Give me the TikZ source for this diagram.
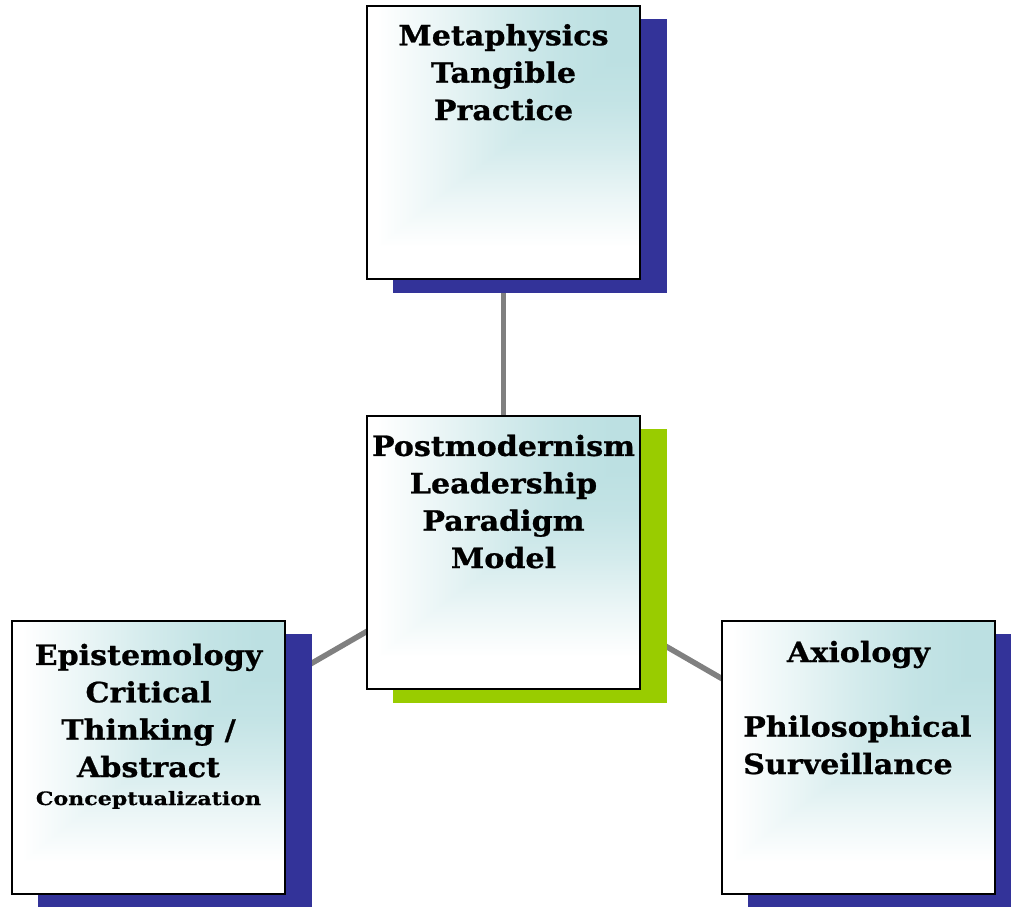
\documentclass[tikz,border=0pt]{standalone}
\usepackage{fontspec}
\setmainfont{DejaVu Serif}
\newfontfamily\boxfont[FakeStretch=1.08, FakeBold=0.8]{DejaVu Serif Bold}
\newfontfamily\boxfontwide[FakeStretch=1.2, FakeBold=0.6]{DejaVu Serif Bold}
\usetikzlibrary{backgrounds}
\definecolor{tealc}{HTML}{BCE0E2}
\definecolor{shblue}{HTML}{333399}
\definecolor{shgreen}{HTML}{99CC00}
\definecolor{linegray}{HTML}{808080}
\pgfdeclarehorizontalshading{hteal}{100bp}{%
  color(0bp)=(white); color(27bp)=(white); color(38bp)=(tealc!30!white);
  color(50bp)=(tealc!65!white); color(60bp)=(tealc!88!white);
  color(70bp)=(tealc); color(100bp)=(tealc)}
\pgfdeclareverticalshading{vteal}{100bp}{%
  color(0bp)=(white); color(31bp)=(white); color(40bp)=(tealc!30!white);
  color(49bp)=(tealc!65!white); color(57bp)=(tealc!88!white);
  color(65bp)=(tealc); color(100bp)=(tealc)}
\tikzset{
  box/.style={draw=black, line width=1.6bp, minimum width=273bp, minimum height=273bp,
    inner sep=0pt},
  shadowbox/.style={minimum width=274bp, minimum height=274bp, inner sep=0pt},
  conn/.style={draw=linegray, line width=5.5bp},
  lbl/.style={font=\boxfont\fontsize{28}{37.5}\selectfont, align=center, inner sep=0pt},
  small/.style={font=\boxfontwide\fontsize{18.5}{22}\selectfont, inner sep=0pt}
}
\newcommand\cornershade[1]{%
  \fill[white] (#1.south west) rectangle (#1.north east);
  \shade[shading=hteal] (#1.south west) rectangle (#1.north east);
  \begin{scope}[blend mode=lighten]
    \shade[shading=vteal] (#1.south west) rectangle (#1.north east);
  \end{scope}}
\begin{document}
\begin{tikzpicture}[x=1bp,y=-1bp]
\useasboundingbox (0,0) rectangle (1011,907);
% boxes
\node[box] (top) at (503.5,142.5) {};
\node[box] (mid) at (503.5,552.5) {};
\node[box] (left) at (148.5,757.5) {};
\node[box] (right) at (858.5,757.5) {};
\begin{pgfonlayer}{background}
  \draw[conn] (top.center) -- (mid.center);
  \draw[conn] (mid.center) -- (left.center);
  \draw[conn] (mid.center) -- (right.center);
  \node[shadowbox, fill=shblue] (topsh) at ([shift={(26.5,13.5)}]top.center) {};
  \node[shadowbox, fill=shgreen] (midsh) at ([shift={(26.5,13.5)}]mid.center) {};
  \node[shadowbox, fill=shblue] (leftsh) at ([shift={(26.5,13.5)}]left.center) {};
  \node[shadowbox, fill=shblue] (rightsh) at ([shift={(26.5,13.5)}]right.center) {};
  \cornershade{top}
  \cornershade{mid}
  \cornershade{left}
  \cornershade{right}
\end{pgfonlayer}
% texts
\node[lbl, anchor=base] (ttop) at (503.5,120) {Metaphysics\\Tangible\\Practice};
\node[lbl, anchor=base] (tmid) at (503.5,568) {Postmodernism\\Leadership\\Paradigm\\Model};
\node[lbl, anchor=base] (tleft) at (148.5,777) {Epistemology\\Critical\\Thinking /\\Abstract};
\node[small, anchor=base] (tleft2) at (148.5,805) {Conceptualization};
\node[lbl, anchor=base] (tright) at (858.5,662) {Axiology};
\node[lbl, anchor=base west, align=left] (tright2) at (743,774) {Philosophical\\Surveillance};
\end{tikzpicture}
\end{document}
